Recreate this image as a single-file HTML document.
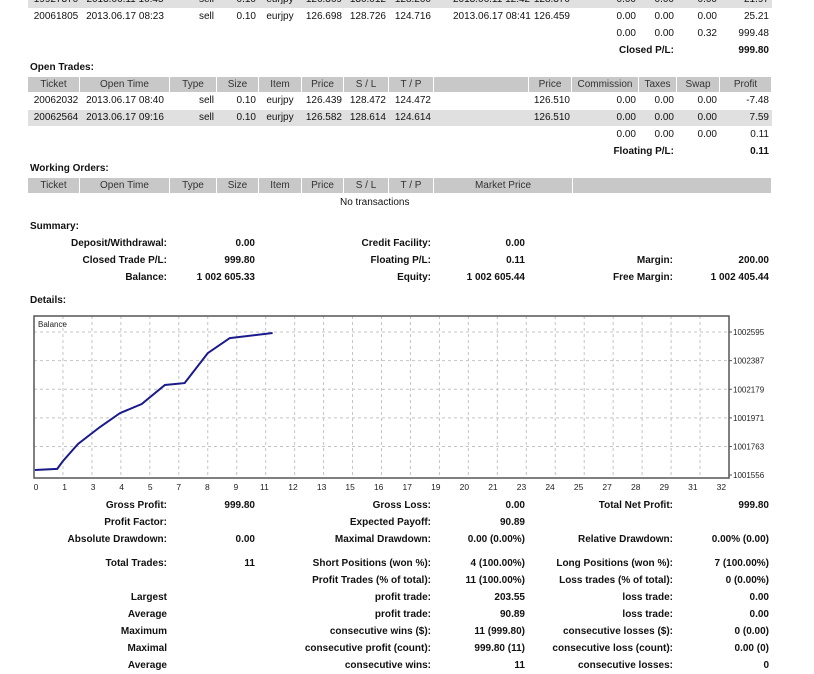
<!DOCTYPE html>
<html><head><meta charset="utf-8">
<style>
html,body{margin:0;padding:0;background:#fff;width:814px;height:674px;overflow:hidden;position:relative}
.t{position:absolute;font-family:"Liberation Sans","DejaVu Sans",sans-serif;font-size:10px;color:#111;white-space:nowrap;line-height:12px}
.b{font-weight:bold}
.r{text-align:right}
.c{text-align:center}
.h{position:absolute;background:#c8c8c8;height:15px;font-family:"Liberation Sans",sans-serif;font-size:10px;color:#333;text-align:center;line-height:15px}
.g{position:absolute;background:#e0e0e0;height:16px;left:28px;width:744px}
</style></head><body>

<div class="g" style="top:-8px"></div>
<div class="g" style="top:110px"></div>

<!-- closed trades tail -->
<div>
<div class="t c" style="left:28px;width:56px;top:-6px">19927370</div>
<div class="t c" style="left:80px;width:90px;top:-6px">2013.06.11 10:45</div>
<div class="t r" style="right:600px;top:-6px">sell</div>
<div class="t r" style="right:558px;top:-6px">0.10</div>
<div class="t c" style="left:259px;width:42px;top:-6px">eurjpy</div>
<div class="t r" style="right:472px;top:-6px">126.369</div>
<div class="t r" style="right:428px;top:-6px">130.012</div>
<div class="t r" style="right:383px;top:-6px">128.200</div>
<div class="t" style="left:453px;top:-6px">2013.06.11 12:42</div>
<div class="t r" style="right:244px;top:-6px">128.370</div>
<div class="t r" style="right:178px;top:-6px">0.00</div>
<div class="t r" style="right:140px;top:-6px">0.00</div>
<div class="t r" style="right:97px;top:-6px">0.00</div>
<div class="t r" style="right:45px;top:-6px">21.97</div>

<div class="t c" style="left:28px;width:56px;top:11px">20061805</div>
<div class="t c" style="left:80px;width:90px;top:11px">2013.06.17 08:23</div>
<div class="t r" style="right:600px;top:11px">sell</div>
<div class="t r" style="right:558px;top:11px">0.10</div>
<div class="t c" style="left:259px;width:42px;top:11px">eurjpy</div>
<div class="t r" style="right:472px;top:11px">126.698</div>
<div class="t r" style="right:428px;top:11px">128.726</div>
<div class="t r" style="right:383px;top:11px">124.716</div>
<div class="t" style="left:453px;top:11px">2013.06.17 08:41</div>
<div class="t r" style="right:244px;top:11px">126.459</div>
<div class="t r" style="right:178px;top:11px">0.00</div>
<div class="t r" style="right:140px;top:11px">0.00</div>
<div class="t r" style="right:97px;top:11px">0.00</div>
<div class="t r" style="right:45px;top:11px">25.21</div>

<div class="t r" style="right:178px;top:28px">0.00</div>
<div class="t r" style="right:140px;top:28px">0.00</div>
<div class="t r" style="right:97px;top:28px">0.32</div>
<div class="t r" style="right:45px;top:28px">999.48</div>
<div class="t b r" style="right:140px;top:45px">Closed P/L:</div>
<div class="t b r" style="right:45px;top:45px">999.80</div>
</div>

<!-- open trades -->
<div class="t b" style="left:30px;top:62px">Open Trades:</div>
<div>
<div class="h" style="left:28px;width:51px;top:77px">Ticket</div>
<div class="h" style="left:80px;width:89px;top:77px">Open Time</div>
<div class="h" style="left:170px;width:46px;top:77px">Type</div>
<div class="h" style="left:217px;width:41px;top:77px">Size</div>
<div class="h" style="left:259px;width:42px;top:77px">Item</div>
<div class="h" style="left:302px;width:41px;top:77px">Price</div>
<div class="h" style="left:344px;width:44px;top:77px">S / L</div>
<div class="h" style="left:389px;width:44px;top:77px">T / P</div>
<div class="h" style="left:434px;width:94px;top:77px"></div>
<div class="h" style="left:529px;width:42px;top:77px">Price</div>
<div class="h" style="left:572px;width:66px;top:77px">Commission</div>
<div class="h" style="left:639px;width:37px;top:77px">Taxes</div>
<div class="h" style="left:677px;width:42px;top:77px">Swap</div>
<div class="h" style="left:720px;width:51px;top:77px">Profit</div>
</div>
<div>
<div class="t c" style="left:28px;width:56px;top:95px">20062032</div>
<div class="t c" style="left:80px;width:90px;top:95px">2013.06.17 08:40</div>
<div class="t r" style="right:600px;top:95px">sell</div>
<div class="t r" style="right:558px;top:95px">0.10</div>
<div class="t c" style="left:259px;width:42px;top:95px">eurjpy</div>
<div class="t r" style="right:472px;top:95px">126.439</div>
<div class="t r" style="right:428px;top:95px">128.472</div>
<div class="t r" style="right:383px;top:95px">124.472</div>
<div class="t r" style="right:244px;top:95px">126.510</div>
<div class="t r" style="right:178px;top:95px">0.00</div>
<div class="t r" style="right:140px;top:95px">0.00</div>
<div class="t r" style="right:97px;top:95px">0.00</div>
<div class="t r" style="right:45px;top:95px">-7.48</div>

<div class="t c" style="left:28px;width:56px;top:112px">20062564</div>
<div class="t c" style="left:80px;width:90px;top:112px">2013.06.17 09:16</div>
<div class="t r" style="right:600px;top:112px">sell</div>
<div class="t r" style="right:558px;top:112px">0.10</div>
<div class="t c" style="left:259px;width:42px;top:112px">eurjpy</div>
<div class="t r" style="right:472px;top:112px">126.582</div>
<div class="t r" style="right:428px;top:112px">128.614</div>
<div class="t r" style="right:383px;top:112px">124.614</div>
<div class="t r" style="right:244px;top:112px">126.510</div>
<div class="t r" style="right:178px;top:112px">0.00</div>
<div class="t r" style="right:140px;top:112px">0.00</div>
<div class="t r" style="right:97px;top:112px">0.00</div>
<div class="t r" style="right:45px;top:112px">7.59</div>

<div class="t r" style="right:178px;top:129px">0.00</div>
<div class="t r" style="right:140px;top:129px">0.00</div>
<div class="t r" style="right:97px;top:129px">0.00</div>
<div class="t r" style="right:45px;top:129px">0.11</div>
<div class="t b r" style="right:140px;top:146px">Floating P/L:</div>
<div class="t b r" style="right:45px;top:146px">0.11</div>
</div>

<!-- working orders -->
<div class="t b" style="left:30px;top:163px">Working Orders:</div>
<div>
<div class="h" style="left:28px;width:51px;top:178px">Ticket</div>
<div class="h" style="left:80px;width:89px;top:178px">Open Time</div>
<div class="h" style="left:170px;width:46px;top:178px">Type</div>
<div class="h" style="left:217px;width:41px;top:178px">Size</div>
<div class="h" style="left:259px;width:42px;top:178px">Item</div>
<div class="h" style="left:302px;width:41px;top:178px">Price</div>
<div class="h" style="left:344px;width:44px;top:178px">S / L</div>
<div class="h" style="left:389px;width:44px;top:178px">T / P</div>
<div class="h" style="left:434px;width:138px;top:178px">Market Price</div>
<div class="h" style="left:573px;width:198px;top:178px"></div>
</div>
<div class="t" style="left:340px;top:197px">No transactions</div>

<!-- summary -->
<div class="t b" style="left:30px;top:221px">Summary:</div>
<div>
<div class="t b r" style="right:647px;top:238px">Deposit/Withdrawal:</div>
<div class="t b r" style="right:559px;top:238px">0.00</div>
<div class="t b r" style="right:383px;top:238px">Credit Facility:</div>
<div class="t b r" style="right:289px;top:238px">0.00</div>
<div class="t b r" style="right:647px;top:255px">Closed Trade P/L:</div>
<div class="t b r" style="right:559px;top:255px">999.80</div>
<div class="t b r" style="right:383px;top:255px">Floating P/L:</div>
<div class="t b r" style="right:289px;top:255px">0.11</div>
<div class="t b r" style="right:141px;top:255px">Margin:</div>
<div class="t b r" style="right:45px;top:255px">200.00</div>
<div class="t b r" style="right:647px;top:272px">Balance:</div>
<div class="t b r" style="right:559px;top:272px">1 002 605.33</div>
<div class="t b r" style="right:383px;top:272px">Equity:</div>
<div class="t b r" style="right:289px;top:272px">1 002 605.44</div>
<div class="t b r" style="right:141px;top:272px">Free Margin:</div>
<div class="t b r" style="right:45px;top:272px">1 002 405.44</div>
</div>
<div class="t b" style="left:30px;top:295px">Details:</div>

<svg id="chart" width="814" height="674" style="position:absolute;left:0;top:0"></svg>

<!-- stats -->
<div>
<div class="t b r" style="right:647px;top:500px">Gross Profit:</div>
<div class="t b r" style="right:559px;top:500px">999.80</div>
<div class="t b r" style="right:383px;top:500px">Gross Loss:</div>
<div class="t b r" style="right:289px;top:500px">0.00</div>
<div class="t b r" style="right:141px;top:500px">Total Net Profit:</div>
<div class="t b r" style="right:45px;top:500px">999.80</div>

<div class="t b r" style="right:647px;top:517px">Profit Factor:</div>
<div class="t b r" style="right:383px;top:517px">Expected Payoff:</div>
<div class="t b r" style="right:289px;top:517px">90.89</div>

<div class="t b r" style="right:647px;top:534px">Absolute Drawdown:</div>
<div class="t b r" style="right:559px;top:534px">0.00</div>
<div class="t b r" style="right:383px;top:534px">Maximal Drawdown:</div>
<div class="t b r" style="right:289px;top:534px">0.00 (0.00%)</div>
<div class="t b r" style="right:141px;top:534px">Relative Drawdown:</div>
<div class="t b r" style="right:45px;top:534px">0.00% (0.00)</div>

<div class="t b r" style="right:647px;top:558px">Total Trades:</div>
<div class="t b r" style="right:559px;top:558px">11</div>
<div class="t b r" style="right:383px;top:558px">Short Positions (won %):</div>
<div class="t b r" style="right:289px;top:558px">4 (100.00%)</div>
<div class="t b r" style="right:141px;top:558px">Long Positions (won %):</div>
<div class="t b r" style="right:45px;top:558px">7 (100.00%)</div>

<div class="t b r" style="right:383px;top:575px">Profit Trades (% of total):</div>
<div class="t b r" style="right:289px;top:575px">11 (100.00%)</div>
<div class="t b r" style="right:141px;top:575px">Loss trades (% of total):</div>
<div class="t b r" style="right:45px;top:575px">0 (0.00%)</div>

<div class="t b r" style="right:647px;top:592px">Largest</div>
<div class="t b r" style="right:383px;top:592px">profit trade:</div>
<div class="t b r" style="right:289px;top:592px">203.55</div>
<div class="t b r" style="right:141px;top:592px">loss trade:</div>
<div class="t b r" style="right:45px;top:592px">0.00</div>

<div class="t b r" style="right:647px;top:609px">Average</div>
<div class="t b r" style="right:383px;top:609px">profit trade:</div>
<div class="t b r" style="right:289px;top:609px">90.89</div>
<div class="t b r" style="right:141px;top:609px">loss trade:</div>
<div class="t b r" style="right:45px;top:609px">0.00</div>

<div class="t b r" style="right:647px;top:626px">Maximum</div>
<div class="t b r" style="right:383px;top:626px">consecutive wins ($):</div>
<div class="t b r" style="right:289px;top:626px">11 (999.80)</div>
<div class="t b r" style="right:141px;top:626px">consecutive losses ($):</div>
<div class="t b r" style="right:45px;top:626px">0 (0.00)</div>

<div class="t b r" style="right:647px;top:643px">Maximal</div>
<div class="t b r" style="right:383px;top:643px">consecutive profit (count):</div>
<div class="t b r" style="right:289px;top:643px">999.80 (11)</div>
<div class="t b r" style="right:141px;top:643px">consecutive loss (count):</div>
<div class="t b r" style="right:45px;top:643px">0.00 (0)</div>

<div class="t b r" style="right:647px;top:660px">Average</div>
<div class="t b r" style="right:383px;top:660px">consecutive wins:</div>
<div class="t b r" style="right:289px;top:660px">11</div>
<div class="t b r" style="right:141px;top:660px">consecutive losses:</div>
<div class="t b r" style="right:45px;top:660px">0</div>
</div>

<script>
const xTickLabels = ["0","1","3","4","5","7","8","9","11","12","13","15","16","17","19","20","21","23","24","25","27","28","29","31","32"];
const yTickValues = [1001556, 1001763, 1001971, 1002179, 1002387, 1002595];
const pointX = [0.03, 0.8, 1.0, 1.52, 2.28, 2.97, 3.72, 4.52, 5.2, 6.0, 6.76, 8.24];
const balance = [1001592, 1001600, 1001658, 1001781, 1001905, 1002006, 1002072, 1002210, 1002224, 1002442, 1002551, 1002588];

const NS = "http://www.w3.org/2000/svg";
const svg = document.getElementById("chart");
const L = 34, T = 316, R = 729, B = 478;
const step = (R - L) / 24;
const yMin = 1001556, yMax = 1002595, yBot = 475, yTop = 332;
function xs(u) { return L + u * step; }
function ys(v) { return yBot - (v - yMin) / (yMax - yMin) * (yBot - yTop); }
function mk(tag, attrs) { const e = document.createElementNS(NS, tag); for (const k in attrs) e.setAttribute(k, attrs[k]); svg.appendChild(e); return e; }

for (let i = 1; i < 24; i++) {
  const g = mk("line", {x1: xs(i), x2: xs(i), y1: T, y2: B, stroke: "#c4c4c4", "stroke-dasharray": "3,3", "stroke-width": 1});
  
  
}
yTickValues.forEach(v => {
  const y = ys(v);
  if (y < B - 4) {
    const g = mk("line", {x1: L, x2: R, y1: y, y2: y, stroke: "#c4c4c4", "stroke-dasharray": "3,3", "stroke-width": 1});
    
    
  }
  const tk = mk("line", {x1: R, x2: R + 3, y1: y, y2: y, stroke: "#555"});
  
  
  const t = mk("text", {x: R + 4, y: y + 3, "font-size": 8, "font-family": "Liberation Sans, sans-serif", fill: "#222"});
  t.textContent = v;
  
  
});
xTickLabels.forEach((lab, i) => {
  const t = mk("text", {x: xs(i) + 2 - i * 0.4, y: 490, "font-size": 8.5, "font-family": "Liberation Sans, sans-serif", fill: "#222", "text-anchor": "middle"});
  t.textContent = lab;
  
  
});
const frame = mk("rect", {x: L, y: T, width: R - L, height: B - T, fill: "none", stroke: "#555", "stroke-width": 1.5});


const lt = mk("text", {x: 38, y: 327, "font-size": 8, "font-family": "Liberation Sans, sans-serif", fill: "#222"});
lt.textContent = "Balance";


const pts = pointX.map((u, i) => xs(u).toFixed(1) + "," + ys(balance[i]).toFixed(1)).join(" ");
const line = mk("polyline", {points: pts, fill: "none", stroke: "#1a1a8c", "stroke-width": 2});


</script>
</body></html>
